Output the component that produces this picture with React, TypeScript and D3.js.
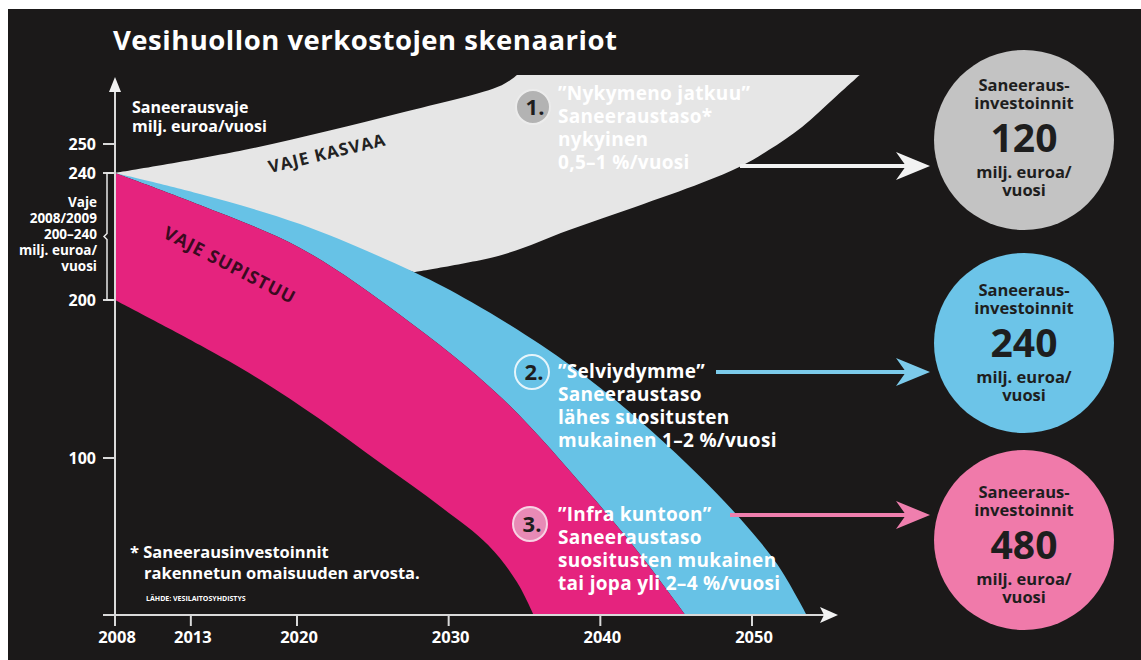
import * as d3 from 'd3'

// axis ticks
const yTicks = [100, 200, 240, 250]
const xTicks = [2008, 2013, 2020, 2030, 2040, 2050]

// boundaries of the scenario bands, [year, milj. euroa/vuosi]
const grayUpper = [[2008, 240], [2016.5, 247.9], [2026.8, 260.7], [2033.5, 270.3], [2034.5, 273.8]]
const grayFlat = [[2034.5, 273.8], [2057.1, 273.8]]
const grayEdge = [[2027.7, 208.8], [2033.5, 214.2], [2037.9, 222], [2042.3, 229.3], [2046.7, 236.9], [2049.3, 242.4], [2051.1, 247.9], [2053.3, 255.9], [2055.5, 266.2], [2057.1, 273.8]]
const blueTop = [[2008, 240], [2013.6, 233.4], [2020.2, 223.9], [2027.7, 208.8], [2031.5, 198.7], [2036.1, 171.5], [2040, 144.3], [2043.3, 117.7], [2046.6, 87.9], [2049.3, 60.5], [2051.7, 31.8], [2053.6, 0]]
const pinkTop = [[2008, 240], [2013.6, 229.9], [2020.2, 216.4], [2026.8, 190.5], [2033.5, 138], [2039.2, 78.3], [2042.7, 37.6], [2045.6, 0]]
const pinkBottom = [[2008, 200], [2013.6, 171.5], [2017.6, 149.4], [2021.4, 125.3], [2025.5, 96.8], [2029.5, 68.8], [2032.6, 44.6], [2034.5, 21], [2035.6, 0]]

const scenarioNames = ['”Nykymeno jatkuu”', '”Selviydymme”', '”Infra kuntoon”']
const scenarioLines = [
  ['Saneeraustaso*', 'nykyinen', '0,5–1 %/vuosi'],
  ['Saneeraustaso', 'lähes suositusten', 'mukainen 1–2 %/vuosi'],
  ['Saneeraustaso', 'suositusten mukainen', 'tai jopa yli 2–4 %/vuosi'],
]
const investments = [120, 240, 480]
const braceLines = ['Vaje', '2008/2009', '200–240', 'milj. euroa/', 'vuosi']

const FONT = "'Open Sans', 'DejaVu Sans', sans-serif"
const BG = '#1b1919'
const AXIS = '#d9d9d9'
const C_GRAY = '#e6e6e6'
const C_BLUE = '#67c2e6'
const C_PINK = '#e5237e'
const BIG = ['#c3c3c3', '#6cc4e8', '#f07aaa']
const ARROW = ['#f2f2f2', '#7ccbeb', '#ef7fae']

// layout of the annotations (pixels)
const badge = [
  { cx: 533, cy: 107, fill: '#b3b3b3', stroke: '#ececec' },
  { cx: 532, cy: 372, fill: 'none', stroke: '#e6f5fb' },
  { cx: 530, cy: 524, fill: '#e88ab6', stroke: '#f8d3e4' },
]
const textTop = [100, 378, 521]
const arrowRow = [{ x1: 740, y: 166 }, { x1: 716, y: 372 }, { x1: 730, y: 515 }]
const bigY = [140, 343, 540]
const numY = [138, 343, 545]

export default function App() {
  const x = d3.scaleLinear().domain([2008, 2050]).range([115, 752])
  // the original axis is stretched between 200 and 250
  const y = d3.scaleLinear().domain([0, 100, 200, 240, 250]).range([615, 458, 300, 173, 144])

  const line = d3.line<number[]>().x(d => x(d[0])).y(d => y(d[1])).curve(d3.curveCatmullRom.alpha(0.5))
  const seg = (pts: number[][], cont = false) => {
    const p = line(pts) || ''
    return cont ? p.replace(/^M/, 'L') : p
  }
  const rev = (a: number[][]) => a.slice().reverse()

  const grayPath = seg(grayUpper) + seg(grayFlat, true) + seg(rev(grayEdge), true) + 'Z'
  const bluePath = seg(blueTop) + seg(rev(pinkTop), true) + 'Z'
  const pinkPath = seg(pinkTop) + seg(rev(pinkBottom), true) + 'Z'

  const x0 = x(2008)
  const yBase = y(0)
  const tip = 930
  const mid = (y(240) + y(200)) / 2

  return (
    <svg width={1141} height={660} style={{ position: 'absolute', left: 0, top: 0, fontFamily: FONT }}>
      <rect x={0} y={0} width={1141} height={660} fill="#fff" />
      <rect x={8} y={9} width={1133} height={651} fill={BG} />

      <text x={113} y={50} fill="#fff" fontSize={27.5} fontWeight={700} letterSpacing={0.5}>Vesihuollon verkostojen skenaariot</text>

      {/* bands */}
      <path d={grayPath} fill={C_GRAY} />
      <path d={bluePath} fill={C_BLUE} />
      <path d={pinkPath} fill={C_PINK} />

      <text transform={`translate(270,173) rotate(-13.5)`} fill="#222" fontSize={17} fontWeight={700} letterSpacing={1}>VAJE KASVAA</text>
      <text transform={`translate(162,237) rotate(27.5)`} fill="#3a0a20" fontSize={18} fontWeight={700} letterSpacing={1}>VAJE SUPISTUU</text>

      {/* y axis */}
      <line x1={x0} x2={x0} y1={yBase} y2={90} stroke={AXIS} strokeWidth={2} />
      <path d={`M${x0},77 L${x0 - 6},92 L${x0 + 6},92 Z`} fill="#f2f2f2" />
      {yTicks.map(t => (
        <g key={t}>
          <line x1={x0 - 12} x2={x0} y1={y(t)} y2={y(t)} stroke={AXIS} strokeWidth={2} />
          <text x={96} y={y(t) + 6} fill="#fff" fontSize={16} fontWeight={700} textAnchor="end">{t}</text>
        </g>
      ))}
      <text x={132} y={113} fill="#fff" fontSize={16} fontWeight={700}>Saneerausvaje</text>
      <text x={132} y={132} fill="#fff" fontSize={16} fontWeight={700}>milj. euroa/vuosi</text>

      {/* brace 200–240 */}
      <path
        d={`M${x0 - 2},${y(240)} H${x0 - 8} V${mid - 3} L${x0 - 11},${mid} L${x0 - 8},${mid + 3} V${y(200)} H${x0 - 2}`}
        fill="none" stroke="#e8e8e8" strokeWidth={1.5}
      />
      {braceLines.map((s, i) => (
        <text key={s} x={97} y={207 + i * 16} fill="#fff" fontSize={13.5} fontWeight={700} textAnchor="end">{s}</text>
      ))}

      {/* x axis */}
      <line x1={x0 - 12} x2={825} y1={yBase} y2={yBase} stroke={AXIS} strokeWidth={2} />
      <path d={`M838,${yBase} L820,${yBase - 8} L824,${yBase} L820,${yBase + 8} Z`} fill="#f2f2f2" />
      {xTicks.map(t => (
        <g key={t}>
          <line x1={x(t)} x2={x(t)} y1={yBase} y2={yBase + 11} stroke={AXIS} strokeWidth={2} />
          <text x={x(t) + 2} y={643} fill="#fff" fontSize={16.5} fontWeight={700} textAnchor="middle">{t}</text>
        </g>
      ))}

      {/* scenarios */}
      {scenarioNames.map((name, i) => {
        const b = badge[i]
        const a = arrowRow[i]
        return (
          <g key={name}>
            <circle cx={b.cx} cy={b.cy} r={17} fill={b.fill} stroke={b.stroke} strokeWidth={2} />
            <text x={b.cx + 2} y={b.cy + 8} fill="#1e1e1e" fontSize={22} fontWeight={700} textAnchor="middle">{i + 1}.</text>
            <text x={558} y={textTop[i]} fill="#fff" fontSize={19} fontWeight={700} letterSpacing={0.3}>{name}</text>
            {scenarioLines[i].map((s, j) => (
              <text key={s} x={558} y={textTop[i] + 23 * (j + 1)} fill="#fff" fontSize={19} fontWeight={700} letterSpacing={0.3}>{s}</text>
            ))}
            <line x1={a.x1} x2={tip - 18} y1={a.y} y2={a.y} stroke={ARROW[i]} strokeWidth={4} />
            <path d={`M${tip},${a.y} L${tip - 34},${a.y - 14} L${tip - 24},${a.y} L${tip - 34},${a.y + 14} Z`} fill={ARROW[i]} />

            <circle cx={1024} cy={bigY[i]} r={90} fill={BIG[i]} />
            <text x={1024} y={numY[i] - 47} fill="#1e1e1e" fontSize={16.5} fontWeight={700} textAnchor="middle">Saneeraus-</text>
            <text x={1024} y={numY[i] - 29} fill="#1e1e1e" fontSize={16.5} fontWeight={700} textAnchor="middle">investoinnit</text>
            <text x={1024} y={numY[i] + 14} fill="#1e1e1e" fontSize={39} fontWeight={700} textAnchor="middle">{investments[i]}</text>
            <text x={1024} y={numY[i] + 40} fill="#1e1e1e" fontSize={16.5} fontWeight={700} textAnchor="middle">milj. euroa/</text>
            <text x={1024} y={numY[i] + 58} fill="#1e1e1e" fontSize={16.5} fontWeight={700} textAnchor="middle">vuosi</text>
          </g>
        )
      })}

      {/* footnote */}
      <text x={130} y={558} fill="#fff" fontSize={16.5} fontWeight={700}>* Saneerausinvestoinnit</text>
      <text x={144} y={579} fill="#fff" fontSize={16.5} fontWeight={700}>rakennetun omaisuuden arvosta.</text>
      <text x={146} y={601} fill="#fff" fontSize={7} fontWeight={700}>LÄHDE: VESILAITOSYHDISTYS</text>
    </svg>
  )
}
